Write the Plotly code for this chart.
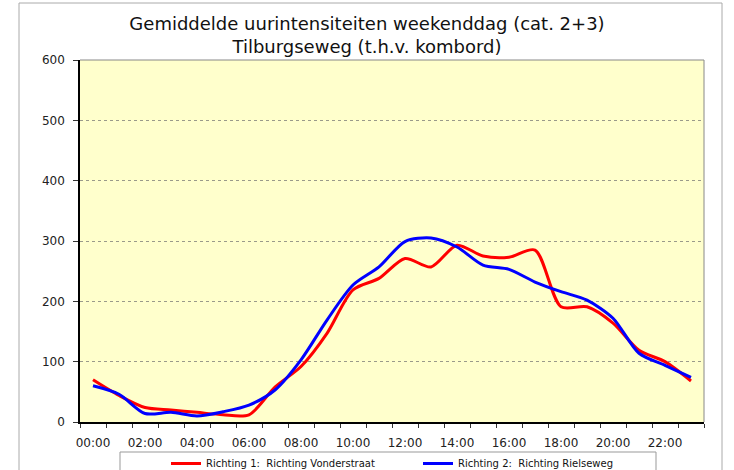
import plotly.graph_objects as go

hours = [f"{h:02d}:00" for h in range(24)]
tick_labels = [h if i % 2 == 0 else "" for i, h in enumerate(hours)]

richting1 = [70, 44, 24, 20, 16, 12, 12, 58, 92, 147, 219, 238,
             271, 257, 293, 275, 273, 285, 191, 191, 164, 119, 100, 68]
richting2 = [60, 46, 14, 16, 10, 17, 28, 53, 103, 169, 227, 257,
             299, 305, 290, 260, 253, 232, 216, 202, 172, 114, 94, 74]

name1 = "Richting 1:\u00a0 Richting Vonderstraat"
name2 = "Richting 2:\u00a0 Richting Rielseweg"

font_family = "Verdana, DejaVu Sans, sans-serif"

W, H = 734, 470
L, R, T, B = 80, 30, 60, 48
PW, PH = W - L - R, H - T - B


def px_x(x):
    return (x - L) / PW


def px_y(y):
    return (H - B - y) / PH


fig = go.Figure()
fig.add_trace(go.Scatter(x=hours, y=richting1, mode="lines", name=name1,
                         line=dict(color="#FF0000", width=3, shape="spline", smoothing=0.8)))
fig.add_trace(go.Scatter(x=hours, y=richting2, mode="lines", name=name2,
                         line=dict(color="#0000FF", width=3, shape="spline", smoothing=0.8)))

fig.update_layout(
    width=W, height=H,
    margin=dict(l=L, r=R, t=T, b=B, autoexpand=False),
    paper_bgcolor="white",
    plot_bgcolor="#FFFFCC",
    font=dict(family=font_family, size=12, color="#222222"),
    title=dict(
        text="Gemiddelde uurintensiteiten weekenddag (cat. 2+3)<br>Tilburgseweg (t.h.v. kombord)",
        x=0.5, xref="container", xanchor="center",
        y=1 - 30 / H, yref="container", yanchor="top",
        font=dict(family=font_family, size=18, color="#111111"),
    ),
    showlegend=True,
    legend=dict(
        orientation="h", x=px_x(166), xanchor="left", y=px_y(449), yanchor="top",
        borderwidth=0, bgcolor="rgba(0,0,0,0)",
        font=dict(family=font_family, size=10, color="#111111"),
        entrywidth=207, itemwidth=30,
    ),
    xaxis=dict(
        type="category", categoryorder="array", categoryarray=hours,
        tickvals=hours, ticktext=tick_labels, tickson="boundaries",
        ticks="outside", ticklen=4, tickcolor="#333333",
        ticklabelstandoff=9,
        showline=True, linecolor="black", linewidth=1.5,
        showgrid=False, mirror=False, tickangle=0,
        range=[-0.5, 23.5],
    ),
    yaxis=dict(
        range=[0, 600], dtick=100, ticks="outside", ticklen=5, tickcolor="#333333",
        ticklabelstandoff=6,
        showline=True, linecolor="black", linewidth=1.5,
        showgrid=True, gridcolor="#9a9a8a", griddash="dot", gridwidth=1,
        zeroline=False,
    ),
    shapes=[
        dict(type="line", xref="paper", yref="paper", x0=0, x1=1, y0=1, y1=1,
             line=dict(color="#888888", width=1)),
        dict(type="line", xref="paper", yref="paper", x0=1, x1=1, y0=0, y1=1,
             line=dict(color="#888888", width=1)),
        dict(type="rect", xref="paper", yref="paper",
             x0=px_x(19), x1=px_x(722), y0=px_y(480), y1=px_y(3),
             line=dict(color="#AAAAAA", width=1), layer="below"),
        dict(type="rect", xref="paper", yref="paper",
             x0=px_x(120), x1=px_x(656), y0=px_y(480), y1=px_y(452),
             line=dict(color="#999999", width=1), fillcolor="white", layer="below"),
    ],
)

fig.write_html("out.html", config={"displayModeBar": False},
               post_script="document.body.style.margin='0';")
